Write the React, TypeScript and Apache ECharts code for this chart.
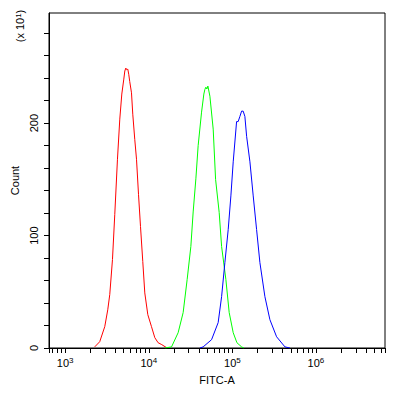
import React, { useEffect, useRef } from "react";
import * as echarts from "echarts";

// FITC-A values (linear) and counts for each histogram
const redFitc = [2254, 2588, 2972, 3228, 3412, 3676, 3916, 4218, 4497, 4753, 5024, 5165, 5309, 5458, 5611, 5754, 5916, 6207, 6431, 6792, 7129, 7533, 7960, 8472, 8954, 9729, 10770, 11800, 12920, 14310, 16300];
const redCount = [1, 5.6, 19, 34, 47.5, 78.7, 118.8, 167.9, 203.6, 225.9, 239.2, 246.4, 249, 247.5, 248, 243.5, 237, 227, 208, 185.6, 167.9, 136.7, 108, 77, 49, 29.7, 19, 9.2, 4.7, 3, 0.3];

const greenFitc = [15560, 18710, 22440, 25760, 28770, 31850, 33950, 36580, 38940, 42770, 45580, 46860, 48180, 49530, 50920, 53820, 58950, 62960, 69510, 74300, 83610, 91590, 102300, 113300, 128900, 137400];
const greenCount = [0, 1, 13.6, 31.5, 60.9, 90.3, 121, 150.5, 180, 209.8, 225.9, 230, 232, 230.4, 233, 224, 194.7, 150, 120.6, 90.3, 60.9, 31.5, 13.6, 4.7, 1, 0];

const blueFitc = [40830, 44670, 56360, 67600, 74300, 81330, 89140, 95980, 102300, 112300, 117300, 123000, 128900, 134600, 141100, 148000, 162200, 177500, 194800, 213400, 244900, 281100, 338000, 425400, 488400];
const blueCount = [0, 1, 7.4, 22.6, 45.7, 76, 105.4, 135.3, 165.6, 201.4, 201.4, 206, 210.7, 210.7, 206, 188.3, 165.6, 135.3, 105.4, 76, 45.7, 25.2, 10, 1, 0];

const xMinLog = 2.806;
const xMaxLog = 6.826;
const xLabelExponents = [3, 4, 5, 6];
const xTickDecades = [2, 3, 4, 5, 6];
const xTickMultipliers = [1, 2, 3, 4, 5, 6, 7, 8, 9];

const yMax = 298;
const yTickValues = [0, 20, 40, 60, 80, 100, 120, 140, 160, 180, 200, 220, 240, 260, 280];
const yLabelValues = [0, 100, 200];

const FONT = "'Liberation Sans', Arial, sans-serif";

function toSeries(xs: number[], ys: number[]) {
  return xs.map((v, i) => [Math.log10(v), ys[i]]);
}

export default function App() {
  const ref = useRef<HTMLDivElement>(null);
  useEffect(() => {
    if (!ref.current) return;
    const chart = echarts.init(ref.current, null, { renderer: "svg" });
    const xTicks: number[] = [xMinLog];
    xTickDecades.forEach((d) =>
      xTickMultipliers.forEach((m) => {
        const l = Math.log10(m * Math.pow(10, d));
        if (l > xMinLog && l < xMaxLog) xTicks.push(l);
      })
    );
    xTicks.push(xMaxLog);

    chart.setOption({
      animation: false,
      backgroundColor: "#fff",
      grid: {
        left: 49,
        top: 13,
        right: 21,
        bottom: 45,
        show: true,
        borderColor: "#000",
        borderWidth: 1,
        backgroundColor: "transparent",
      },
      xAxis: {
        type: "value",
        min: xMinLog,
        max: xMaxLog,
        name: "FITC-A",
        nameLocation: "middle",
        nameGap: 26,
        nameTextStyle: { fontFamily: FONT, fontSize: 11, color: "#000" },
        axisLine: { show: true, lineStyle: { color: "#000", width: 1 } },
        axisTick: {
          show: true,
          length: 5,
          inside: false,
          customValues: xTicks,
          lineStyle: { color: "#000", width: 1 },
        },
        axisLabel: {
          customValues: xLabelExponents,
          margin: 8,
          formatter: (v: number) => `{b|10}{s|${Math.round(v)}}`,
          rich: {
            b: { fontFamily: FONT, fontSize: 11, lineHeight: 14, color: "#000" },
            s: { fontFamily: FONT, fontSize: 8, lineHeight: 8, verticalAlign: "top", color: "#000" },
          },
        },
        splitLine: { show: false },
      },
      yAxis: {
        type: "value",
        min: 0,
        max: yMax,
        name: "Count",
        nameLocation: "middle",
        nameGap: 22,
        nameTextStyle: { fontFamily: FONT, fontSize: 11, color: "#000" },
        axisLine: { show: true, lineStyle: { color: "#000", width: 1 } },
        axisTick: {
          show: true,
          length: 5,
          customValues: yTickValues,
          lineStyle: { color: "#000", width: 1 },
        },
        axisLabel: {
          customValues: yLabelValues,
          rotate: 90,
          margin: 10,
          fontFamily: FONT,
          fontSize: 11,
          color: "#000",
        },
        splitLine: { show: false },
      },
      graphic: [
        {
          type: "text",
          x: 19.5,
          y: 26,
          rotation: Math.PI / 2,
          style: {
            text: "(x 10{s|1})",
            fontFamily: FONT,
            fontSize: 11,
            fill: "#000",
            align: "center",
            verticalAlign: "middle",
            rich: {
              s: { fontFamily: FONT, fontSize: 8, verticalAlign: "top", fill: "#000" },
            },
          },
        },
      ],
      series: [
        {
          type: "line",
          data: toSeries(redFitc, redCount),
          showSymbol: false,
          lineStyle: { color: "#ff0000", width: 1 },
          itemStyle: { color: "#ff0000" },
        },
        {
          type: "line",
          data: toSeries(greenFitc, greenCount),
          showSymbol: false,
          lineStyle: { color: "#00ff00", width: 1 },
          itemStyle: { color: "#00ff00" },
        },
        {
          type: "line",
          data: toSeries(blueFitc, blueCount),
          showSymbol: false,
          lineStyle: { color: "#0000ff", width: 1 },
          itemStyle: { color: "#0000ff" },
        },
      ],
    });
    return () => chart.dispose();
  }, []);
  return <div ref={ref} style={{ width: 406, height: 393, position: "absolute", left: 0, top: 0 }} />;
}
